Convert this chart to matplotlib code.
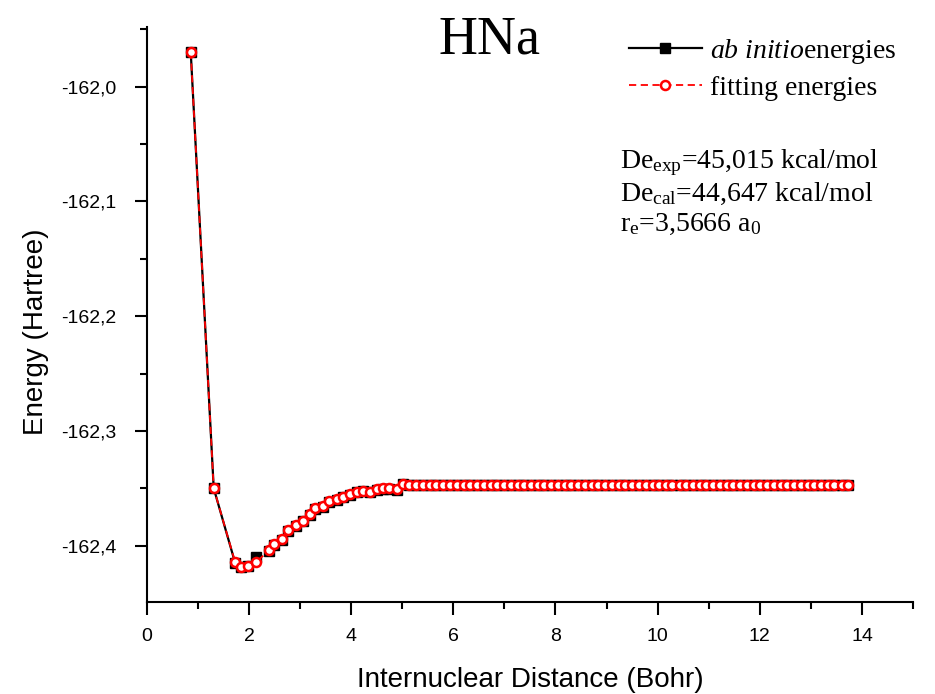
import numpy as np
import matplotlib
matplotlib.use("Agg")
from matplotlib import pyplot as plt
from matplotlib.ticker import MultipleLocator, FuncFormatter

plt.rcParams["font.family"] = "Liberation Sans"
plt.rcParams["mathtext.fontset"] = "custom"
plt.rcParams["mathtext.rm"] = "Liberation Serif"
plt.rcParams["mathtext.it"] = "Liberation Serif:italic"

# internuclear distance (Bohr)
r_well = [0.86, 1.31, 1.73, 1.84, 1.99, 2.14, 2.27, 2.40, 2.49, 2.64, 2.77,
          2.92, 3.05, 3.19, 3.29, 3.44, 3.57, 3.72, 3.85, 3.98, 4.11, 4.23,
          4.37, 4.50, 4.63, 4.75, 4.89, 5.01]
r_flat = [5.14, 5.27, 5.41, 5.54, 5.67, 5.80, 5.93, 6.07, 6.20, 6.33, 6.46,
          6.60, 6.73, 6.86, 6.99, 7.12, 7.26, 7.39, 7.52, 7.65, 7.78, 7.92,
          8.05, 8.18, 8.31, 8.44, 8.58, 8.71, 8.84, 8.97, 9.10, 9.24, 9.37,
          9.50, 9.63, 9.77, 9.90, 10.03, 10.16, 10.29, 10.43, 10.56, 10.69, 10.82,
          10.95, 11.09, 11.22, 11.35, 11.48, 11.61, 11.75, 11.88, 12.01, 12.14,
          12.28, 12.41, 12.54, 12.67, 12.80, 12.94, 13.07, 13.20, 13.33, 13.46,
          13.60, 13.73]

# ab initio energies (Hartree), NaN = missing point
abinitio_well = [-161.9695, -162.3499, -162.4150, -162.4188, -162.4178, -162.4100,
                 np.nan, -162.4045, -162.3995, -162.3948, -162.3868, -162.3825,
                 -162.3788, -162.3730, -162.3680, -162.3660, -162.3615, -162.3600,
                 -162.3578, -162.3554, -162.3534, -162.3526, -162.3532, -162.3510,
                 -162.3505, -162.3505, -162.3510, -162.3466]
fit_well = [-161.9695, -162.3499, -162.4144, -162.4182, -162.4173, -162.4144,
            -162.4090, -162.4037, -162.3987, -162.3941, -162.3862, -162.3819,
            -162.3781, -162.3723, -162.3673, -162.3653, -162.3609, -162.3595,
            -162.3572, -162.3548, -162.3528, -162.3520, -162.3528, -162.3505,
            -162.3499, -162.3499, -162.3505, -162.3461]
flat_energy = [-162.3472, -162.3472, -162.3472, -162.3472, -162.3472, -162.3472,
               -162.3472, -162.3472, -162.3472, -162.3472, -162.3472, -162.3472,
               -162.3472, -162.3472, -162.3472, -162.3472, -162.3472, -162.3472,
               -162.3472, -162.3472, -162.3472, -162.3472, -162.3472, -162.3472,
               -162.3472, -162.3472, -162.3472, -162.3472, -162.3472, -162.3472,
               -162.3472, -162.3472, -162.3472, -162.3472, -162.3472, -162.3472,
               -162.3472, -162.3472, -162.3472, -162.3472, -162.3472, -162.3472,
               -162.3472, -162.3472, -162.3472, -162.3472, -162.3472, -162.3472,
               -162.3472, -162.3472, -162.3472, -162.3472, -162.3472, -162.3472,
               -162.3472, -162.3472, -162.3472, -162.3472, -162.3472, -162.3472,
               -162.3472, -162.3472, -162.3472, -162.3472, -162.3472, -162.3472]

r = r_well + r_flat
e_abinitio = abinitio_well + flat_energy
e_fit = fit_well + flat_energy
gap = 6  # fit has no marker at the missing ab initio point
fit_marks = [i for i in range(len(r)) if i != gap]

fig = plt.figure(figsize=(9.35, 6.94), dpi=100)
ax = fig.add_axes([0.157, 0.1326, 0.8195, 0.8284])

ax.plot(r, e_abinitio, color="black", lw=1.6, marker="s", ms=7,
        mfc="black", mec="black", label=r"$\it{ab\ initio}$energies", zorder=2)
ax.plot(r, e_fit, color="red", lw=1.3, ls=(0, (4, 2.5)), marker="o", ms=6.5,
        mfc="white", mec="red", mew=1.8, markevery=fit_marks,
        label="fitting energies", zorder=3)

ax.set_xlim(0, 15)
ax.set_ylim(-162.449, -161.948)
ax.xaxis.set_major_locator(MultipleLocator(2))
ax.xaxis.set_minor_locator(MultipleLocator(1))
ax.yaxis.set_major_locator(MultipleLocator(0.1))
ax.yaxis.set_minor_locator(MultipleLocator(0.05))
ax.yaxis.set_major_formatter(FuncFormatter(lambda v, p: f"{v:.1f}".replace(".", ",")))
ax.xaxis.set_major_formatter(FuncFormatter(lambda v, p: f"{v:.0f}"))

for s in ["top", "right"]:
    ax.spines[s].set_visible(False)
for s in ["left", "bottom"]:
    ax.spines[s].set_linewidth(1.5)
ax.tick_params(which="major", direction="out", length=9, width=1.5, labelsize=14)
ax.tick_params(axis="y", which="major", pad=13)
ax.tick_params(axis="x", which="major", pad=10)
ax.tick_params(which="minor", direction="out", length=5, width=1.5)

ax.set_xlabel("Internuclear Distance (Bohr)", fontsize=20)
ax.set_ylabel("Energy (Hartree)", fontsize=20)
ax.xaxis.set_label_coords(0.5, -0.113)
ax.yaxis.set_label_coords(-0.127, 0.47)

fig.text(0.524, 0.942, "HNa", fontsize=39, family="Liberation Serif",
         ha="center", va="center")

ax.legend(loc="upper right", bbox_to_anchor=(1.0, 1.012), frameon=False,
          prop={"family": "Liberation Serif", "size": 20}, handlelength=2.6,
          handletextpad=0.3, labelspacing=0.35, numpoints=1, borderaxespad=0.2)

tfont = {"family": "Liberation Serif", "size": 20}
fig.text(0.663, 0.765, r"De$_{\rm exp}$=45,015 kcal/mol", **tfont, va="center")
fig.text(0.663, 0.720, r"De$_{\rm cal}$=44,647 kcal/mol", **tfont, va="center")
fig.text(0.663, 0.677, r"r$_{\rm e}$=3,5666 a$_{\rm 0}$", **tfont, va="center")

fig.savefig("out.png", dpi=100)
